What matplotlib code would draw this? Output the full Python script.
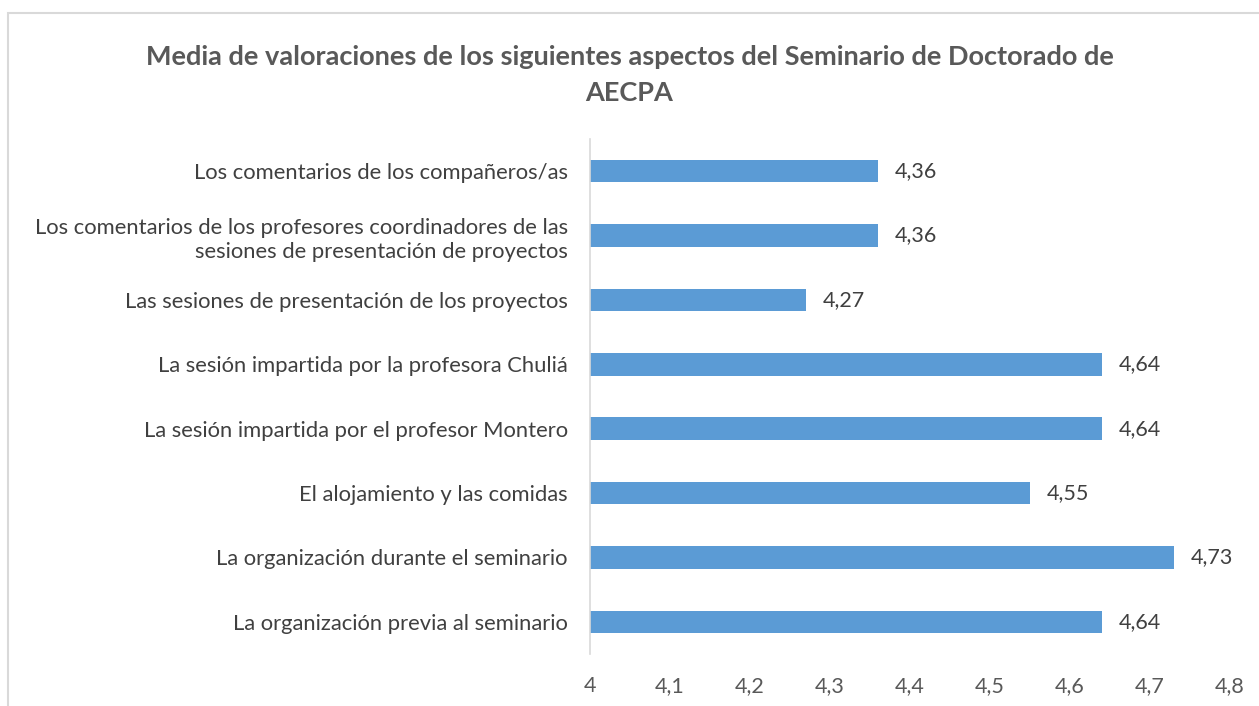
import matplotlib
matplotlib.use("Agg")
import matplotlib.pyplot as plt
from matplotlib.patches import Rectangle

categories = [
    "La organización previa al seminario",
    "La organización durante el seminario",
    "El alojamiento y las comidas",
    "La sesión impartida por el profesor Montero",
    "La sesión impartida por la profesora Chuliá",
    "Las sesiones de presentación de los proyectos",
    "Los comentarios de los profesores coordinadores de las\nsesiones de presentación de proyectos",
    "Los comentarios de los compañeros/as",
]
values = [4.64, 4.73, 4.55, 4.64, 4.64, 4.27, 4.36, 4.36]
value_labels = ["4,64", "4,73", "4,55", "4,64", "4,64", "4,27", "4,36", "4,36"]
xticks = [4.0, 4.1, 4.2, 4.3, 4.4, 4.5, 4.6, 4.7, 4.8]
xtick_labels = ["4", "4,1", "4,2", "4,3", "4,4", "4,5", "4,6", "4,7", "4,8"]
title = "Media de valoraciones de los siguientes aspectos del Seminario de Doctorado de\nAECPA"

plt.rcParams['font.family'] = ['Lato', 'DejaVu Sans']
W, H = 1259, 706
fig = plt.figure(figsize=(W / 100, H / 100), dpi=100)

# outer chart border (cropped at right and bottom)
fig.patches.append(Rectangle((8 / W, -0.1), 1.2, (H - 13) / H + 0.1, transform=fig.transFigure,
                             fill=False, edgecolor="#d9d9d9", linewidth=1.5))

ax = fig.add_axes([590 / W, (H - 654) / H, (1230 - 590) / W, (654 - 139) / H])
y = range(len(categories))
ax.barh(y, [v - 4 for v in values], left=4, height=0.35, color="#5b9bd5")
ax.set_xlim(4, 4.8)
ax.set_ylim(-0.5, len(categories) - 0.5)
ax.set_yticks(list(y))
ax.set_yticklabels(categories, fontsize=15.8, color="#404040", linespacing=1.25)
ax.set_xticks(xticks)
ax.set_xticklabels(xtick_labels, fontsize=15.5, color="#595959")
ax.tick_params(axis="both", length=0)
ax.tick_params(axis="y", pad=16)
ax.tick_params(axis="x", pad=16)
for s in ["top", "right", "bottom"]:
    ax.spines[s].set_visible(False)
ax.spines["left"].set_color("#d9d9d9")
ax.spines["left"].set_linewidth(1.2)

for yi, v, lab in zip(y, values, value_labels):
    ax.text(v + 0.021, yi, lab, va="center", ha="left", fontsize=15.5, color="#404040")

fig.text(0.5, (H - 75) / H, title, ha="center", va="center", fontsize=19.5, fontweight="bold",
         color="#595959", linespacing=1.6)

fig.savefig("out.png", dpi=100)
